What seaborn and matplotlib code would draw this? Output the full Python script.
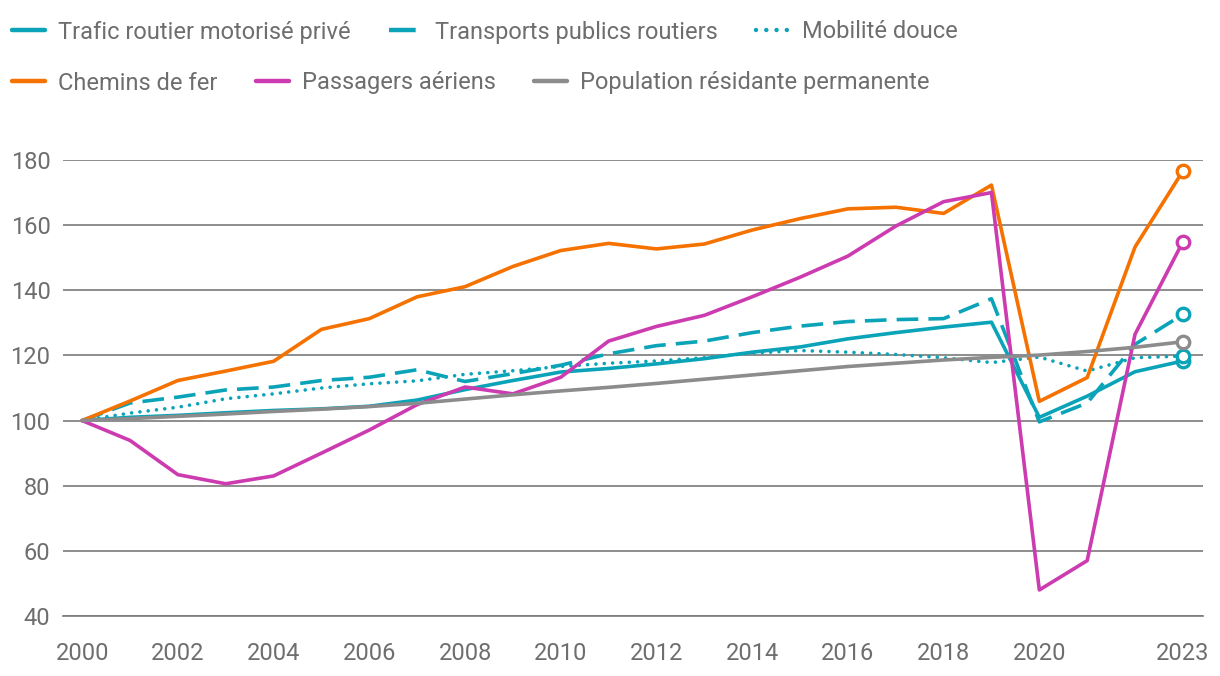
import pandas as pd
import seaborn as sns
import matplotlib.pyplot as plt

# annees et series (indice 2000 = 100)
annees = list(range(2000, 2024))

trafic_prive = [100, 101, 101.6, 102.4, 103.1, 103.6, 104.4, 106.3, 109.5, 112.3, 114.9,
                116, 117.4, 119, 121, 122.6, 125.1, 127, 128.7, 130.2, 101, 107.5, 115, 118.3]
transports_publics = [100, 105.4, 107.2, 109.4, 110.3, 112.3, 113.3, 115.6, 112, 114.4, 117,
                      120.5, 123, 124.4, 127, 129, 130.4, 131, 131.3, 137.4, 99.6, 105.4, 123.4, 132.6]
mobilite_douce = [100, 102.3, 104.1, 106.7, 108.2, 110, 111.3, 112.2, 114.2, 115.3, 116.6,
                  117.6, 118.3, 119.3, 120.7, 121.5, 121, 120.3, 119.3, 117.8, 119.5, 115.2, 119.3, 119.8]
chemins_de_fer = [100, 106, 112.3, 115.2, 118.2, 128, 131.3, 138, 141.1, 147.3, 152.2,
                  154.4, 152.7, 154.2, 158.5, 162, 165, 165.5, 163.6, 172.3, 105.9, 113.2, 153.3, 176.6]
passagers_aeriens = [100, 93.9, 83.4, 80.6, 83, 90, 97.1, 104.9, 110.3, 108.2, 113.3,
                     124.4, 128.9, 132.3, 138, 144, 150.5, 159.7, 167.2, 170, 48, 57, 126.5, 154.9]
population = [100, 100.6, 101.3, 102, 102.8, 103.5, 104.3, 105.3, 106.6, 107.9, 109.1,
              110.2, 111.4, 112.7, 114, 115.3, 116.6, 117.6, 118.6, 119.4, 120.1, 121.2, 122.5, 124.2]

noms = ["Trafic routier motorisé privé", "Transports publics routiers", "Mobilité douce",
        "Chemins de fer", "Passagers aériens", "Population résidante permanente"]
waarden = [trafic_prive, transports_publics, mobilite_douce, chemins_de_fer, passagers_aeriens, population]

teal = "#0aa3b8"
kleuren = [teal, teal, teal, "#f57200", "#cc3bb0", "#8c8c8c"]
stijlen = ["-", (0, (6, 2.8)), (0, (0.01, 2.3)), "-", "-", "-"]
volgorde = [5, 0, 1, 2, 3, 4]  # populatie onderaan tekenen

df = pd.DataFrame({n: w for n, w in zip(noms, waarden)}, index=annees)
df.index.name = "annee"

sns.set_style("white")
plt.rcParams['font.family'] = ['Roboto', 'DejaVu Sans']
tekst = "#6e6e6e"

fig = plt.figure(figsize=(12.2, 6.76), dpi=100)
ax = fig.add_axes([63 / 1220, 60 / 676, 1140 / 1220, 456 / 676])

lijnen = {}
for i in volgorde:
    sns.lineplot(x=df.index, y=df[noms[i]], ax=ax, color=kleuren[i], linewidth=2.6,
                 linestyle=stijlen[i], label=noms[i], legend=False, zorder=3 + i)
    ln = ax.lines[-1]
    if i == 2:
        ln.set_dash_capstyle("round")
    lijnen[i] = ln
    # open cirkel op het laatste jaar
    ax.plot(annees[-1], waarden[i][-1], marker="o", ms=9, mfc="white", mec=kleuren[i],
            mew=2.4, zorder=10 + i, clip_on=False)

ax.set_xlim(1999.6, 2023.42)
ax.set_ylim(40, 180)
ax.set_yticks(range(40, 181, 20))
ax.set_xticks(list(range(2000, 2021, 2)) + [2023])
ax.grid(axis="y", color="#7a7a7a", linewidth=1.2)
ax.grid(axis="x", visible=False)
for s in ["top", "right", "left"]:
    ax.spines[s].set_visible(False)
ax.spines["bottom"].set_color("#7a7a7a")
ax.spines["bottom"].set_linewidth(1.2)
ax.tick_params(axis="y", length=0, pad=9, labelsize=17, labelcolor=tekst)
ax.tick_params(axis="x", length=6, width=1.2, color="#7a7a7a", pad=13, labelsize=17, labelcolor=tekst)
ax.set_xlabel("")
ax.set_ylabel("")

# legende in twee rijen
rij1 = [lijnen[0], lijnen[1], lijnen[2]]
rij2 = [lijnen[3], lijnen[4], lijnen[5]]
for rij, y in [(rij1, 32), (rij2, 83)]:
    leg = fig.legend(handles=rij, labels=[h.get_label() for h in rij], loc="center left",
                     bbox_to_anchor=(12 / 1220, 1 - y / 676), ncol=3, frameon=False,
                     fontsize=17, handlelength=1.4, handletextpad=0.55, columnspacing=1.62,
                     borderpad=0, borderaxespad=0)
    for t in leg.get_texts():
        t.set_color(tekst)
    for h in leg.legend_handles:
        h.set_linewidth(3.2)

fig.savefig("out.png", dpi=100)
